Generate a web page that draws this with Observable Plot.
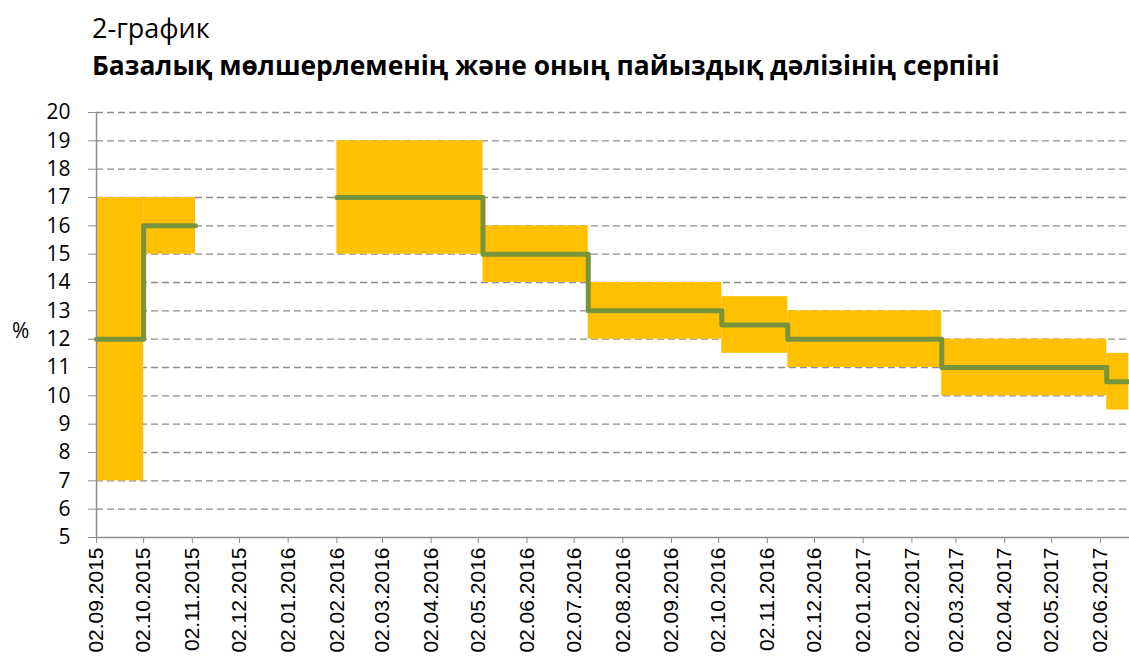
<!DOCTYPE html>
<html><head><meta charset="utf-8">
<script src="https://cdn.jsdelivr.net/npm/d3@7"></script>
<script src="https://cdn.jsdelivr.net/npm/@observablehq/plot@0.6"></script>
<style>
body{margin:0;background:#fff;width:1129px;height:662px;overflow:hidden;position:relative;}
#head{position:relative;height:100px;font-family:"Open Sans",sans-serif;color:#000;}
#t1{position:absolute;left:92px;top:14px;font-size:27px;line-height:1;}
#t2{position:absolute;left:92px;top:52px;font-size:26.4px;font-weight:bold;line-height:1;}
#pct{position:absolute;left:12px;top:320px;font-family:"Open Sans",sans-serif;font-size:21px;line-height:1;}
</style></head><body>
<div id="head"><div id="t1">2-график</div><div id="t2">Базалық мөлшерлеменің және оның пайыздық дәлізінің серпіні</div></div>
<div id="pct">%</div>
<div id="chart"></div>
<script>
// Periods of the base rate and its interest-rate corridor
const periodStart = ["2015-09-02","2015-10-02","2016-02-02","2016-05-05","2016-07-11","2016-10-04","2016-11-15","2017-02-21","2017-06-06"];
const periodEnd   = ["2015-10-02","2015-11-04","2016-05-05","2016-07-11","2016-10-04","2016-11-15","2017-02-21","2017-06-06","2017-06-20"];
const baseRate    = [12, 16, 17, 15, 13, 12.5, 12, 11, 10.5];
const corridorLow = [7, 15, 15, 14, 12, 11.5, 11, 10, 9.5];
const corridorHigh= [17, 17, 19, 16, 14, 13.5, 13, 12, 11.5];
const tickLabels  = ["02.09.2015","02.10.2015","02.11.2015","02.12.2015","02.01.2016","02.02.2016","02.03.2016","02.04.2016","02.05.2016","02.06.2016","02.07.2016","02.08.2016","02.09.2016","02.10.2016","02.11.2016","02.12.2016","02.01.2017","02.02.2017","02.03.2017","02.04.2017","02.05.2017","02.06.2017"];
const yTicks = [5,6,7,8,9,10,11,12,13,14,15,16,17,18,19,20];
const xDomain = ["2015-09-02","2017-06-20T12:00"];

const parse = s => new Date(s + (s.length === 10 ? "T00:00Z" : "Z"));
const parseLabel = s => { const [d,m,y] = s.split("."); return new Date(Date.UTC(+y, +m - 1, +d)); };

const periods = periodStart.map((s, i) => ({
  start: parse(s), end: parse(periodEnd[i]), rate: baseRate[i], lo: corridorLow[i], hi: corridorHigh[i]
}));

// line points with segment ids (gap where a period end != next start)
const linePts = [];
let seg = 0;
periods.forEach((p, i) => {
  linePts.push({date: p.start, v: p.rate, seg});
  const next = periods[i + 1];
  if (!next || +next.start !== +p.end) {
    linePts.push({date: p.end, v: p.rate, seg});
    seg++;
  }
});

const tickDates = tickLabels.map(parseLabel);

const chart = Plot.plot({
  width: 1129,
  height: 562,
  marginLeft: 96,
  marginRight: 0,
  marginTop: 12,
  marginBottom: 125,
  style: {fontFamily: "Open Sans, sans-serif", background: "#fff", overflow: "visible"},
  x: {type: "utc", domain: xDomain.map(parse)},
  y: {domain: [5, 20]},
  marks: [
    Plot.ruleY(yTicks.slice(1), {stroke: "#8c8c8c", strokeWidth: 1.4, strokeDasharray: "7,4"}),
    Plot.rect(periods, {x1: "start", x2: "end", y1: "lo", y2: "hi", fill: "#FFC000"}),
    Plot.line(linePts, {x: "date", y: "v", z: "seg", curve: "step-after", stroke: "#77933C", strokeWidth: 5, strokeLinecap: "round", strokeLinejoin: "round"}),
    Plot.axisY({ticks: yTicks, tickSize: 8, tickPadding: 18, fontSize: 21, fontFamily: "Open Sans, sans-serif", stroke: "#8c8c8c", fill: "#000", label: null}),
    Plot.axisX({ticks: tickDates, tickFormat: d3.utcFormat("%d.%m.%Y"), tickRotate: -90, tickSize: 6, tickPadding: 4, fontSize: 21, fontFamily: "Liberation Sans, Arial, sans-serif", stroke: "#8c8c8c", fill: "#000", label: null}),
    Plot.ruleX([parse(xDomain[0])], {stroke: "#8c8c8c", strokeWidth: 1.5}),
    Plot.ruleY([5], {stroke: "#8c8c8c", strokeWidth: 1.5})
  ]
});
document.getElementById("chart").appendChild(chart);
</script>
</body></html>
